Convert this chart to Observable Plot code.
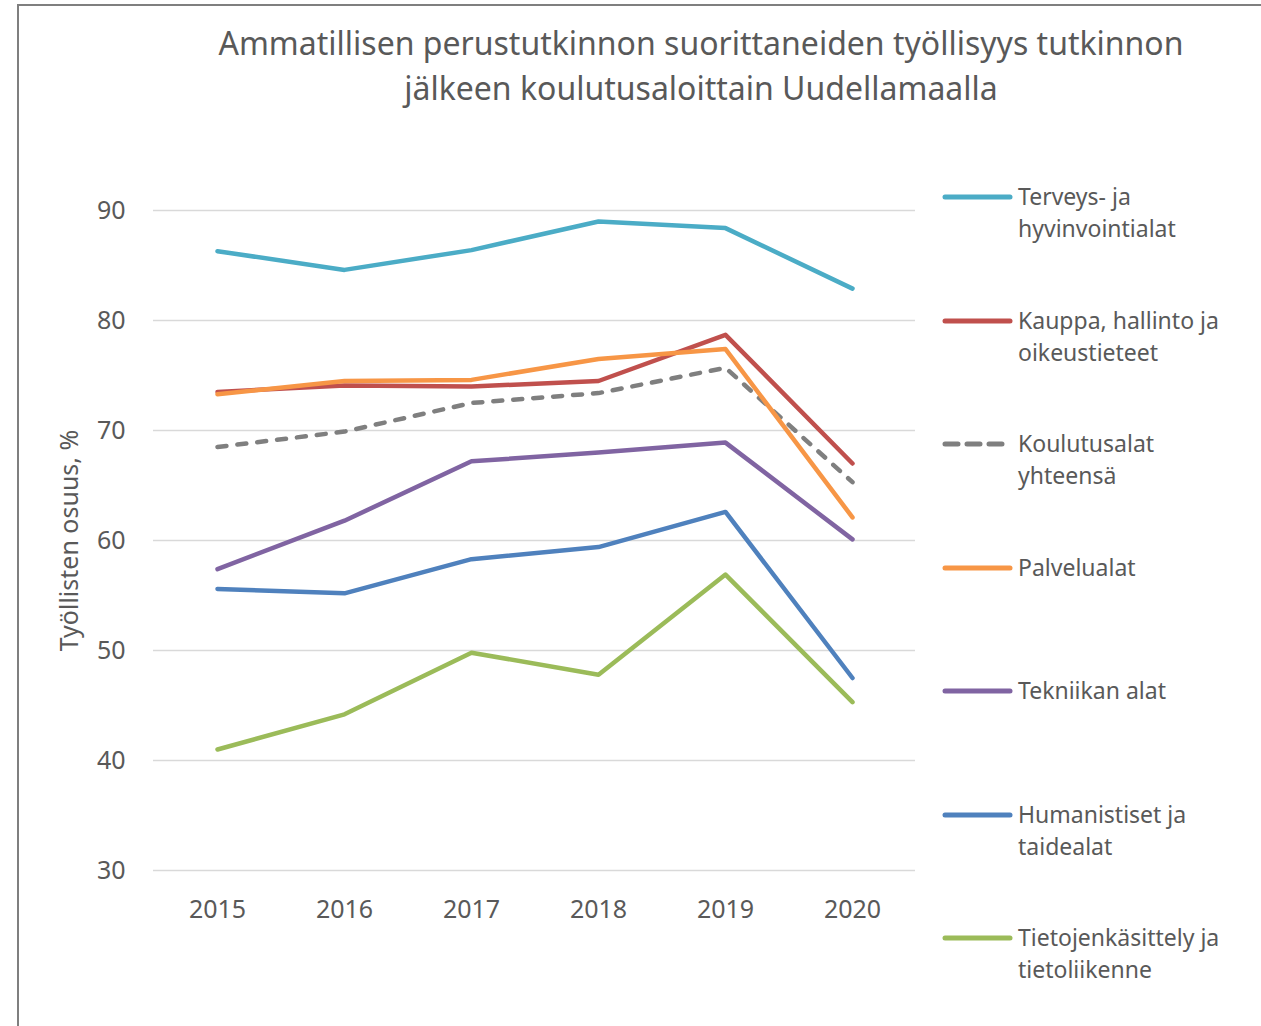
<!DOCTYPE html>
<html>
<head>
<meta charset="utf-8">
<script src="https://cdn.jsdelivr.net/npm/d3@7"></script>
<script src="https://cdn.jsdelivr.net/npm/@observablehq/plot@0.6"></script>
<style>
  body { margin: 0; background: #fff; }
  #wrap { position: relative; width: 1261px; height: 1026px; overflow: hidden; font-family: "Noto Sans", sans-serif; color: #595959; background: #fff; }
  #frame { position: absolute; left: 17px; top: 4px; width: 1400px; height: 1200px; border: 2px solid #7f7f7f; box-sizing: border-box; }
  #title { position: absolute; left: 0; top: 20px; width: 1402px; text-align: center; font-size: 32px; line-height: 45px; color: #595959; white-space: nowrap; }
  #chart { position: absolute; left: 0; top: 0; }
  .item { position: absolute; left: 942px; }
  .item svg { position: absolute; left: 0; top: 11px; }
  .item .lab { position: absolute; left: 76px; top: -1px; font-size: 23px; line-height: 32px; white-space: nowrap; color: #595959; }
</style>
</head>
<body>
<div id="wrap">
  <div id="frame"></div>
  <div id="title">Ammatillisen perustutkinnon suorittaneiden työllisyys tutkinnon<br>jälkeen koulutusaloittain Uudellamaalla</div>
  <div id="chart"></div>
  <div id="legend"></div>
</div>
<script>
const years = ["2015", "2016", "2017", "2018", "2019", "2020"];
const seriesNames = [
  "Terveys- ja hyvinvointialat",
  "Kauppa, hallinto ja oikeustieteet",
  "Koulutusalat yhteensä",
  "Palvelualat",
  "Tekniikan alat",
  "Humanistiset ja taidealat",
  "Tietojenkäsittely ja tietoliikenne"
];
const legendLines = [
  ["Terveys- ja", "hyvinvointialat"],
  ["Kauppa, hallinto ja", "oikeustieteet"],
  ["Koulutusalat", "yhteensä"],
  ["Palvelualat"],
  ["Tekniikan alat"],
  ["Humanistiset ja", "taidealat"],
  ["Tietojenkäsittely ja", "tietoliikenne"]
];
const colors = ["#4bacc6", "#c0504d", "#7f7f7f", "#f79646", "#8064a2", "#4f81bd", "#9bbb59"];
const dashed = [false, false, true, false, false, false, false];

const terveys = [86.3, 84.6, 86.4, 89.0, 88.4, 82.9];
const kauppa = [73.5, 74.1, 74.0, 74.5, 78.7, 67.0];
const yhteensa = [68.5, 69.9, 72.5, 73.4, 75.7, 65.3];
const palvelu = [73.3, 74.5, 74.6, 76.5, 77.4, 62.1];
const tekniikka = [57.4, 61.8, 67.2, 68.0, 68.9, 60.1];
const humanistiset = [55.6, 55.2, 58.3, 59.4, 62.6, 47.5];
const tieto = [41.0, 44.2, 49.8, 47.8, 56.9, 45.3];
const yTicks = [30, 40, 50, 60, 70, 80, 90];

const values = [terveys, kauppa, yhteensa, palvelu, tekniikka, humanistiset, tieto];
const rows = [];
seriesNames.forEach((s, i) => values[i].forEach((v, j) => rows.push({series: s, year: years[j], value: v})));

const lineMarks = seriesNames.map((s, i) =>
  Plot.line(rows.filter(d => d.series === s), {
    x: "year", y: "value", stroke: "series",
    strokeWidth: 4.5, strokeLinecap: "round", strokeLinejoin: "round",
    strokeDasharray: dashed[i] ? "9,11" : null
  })
);

const chart = Plot.plot({
  width: 1261, height: 1026,
  marginLeft: 153, marginRight: 346, marginTop: 210, marginBottom: 156,
  style: { fontFamily: "Noto Sans", fontSize: "25px", color: "#595959", background: "transparent" },
  x: { type: "point", domain: years, padding: 0.5 },
  y: { domain: [30, 90] },
  color: { domain: seriesNames, range: colors },
  marks: [
    Plot.gridY(yTicks, { stroke: "#d9d9d9", strokeOpacity: 1, strokeWidth: 1.5 }),
    Plot.axisY(yTicks, { tickSize: 0, tickPadding: 28, label: null, fill: "#595959" }),
    Plot.axisY([], { label: "Työllisten osuus, %", labelArrow: "none", labelAnchor: "center", labelOffset: 93, fontSize: 25, fill: "#595959" }),
    Plot.axisX(years, { tickSize: 0, tickPadding: 30, label: null, fill: "#595959" }),
    ...lineMarks
  ]
});
document.getElementById("chart").appendChild(chart);

const legend = document.getElementById("legend");
seriesNames.forEach((s, i) => {
  const div = document.createElement("div");
  div.className = "item";
  div.style.top = (181 + i * 123.5) + "px";
  const dash = dashed[i] ? ' stroke-dasharray="13,9"' : '';
  div.innerHTML = `<svg width="72" height="10"><line x1="3" y1="5" x2="68" y2="5" stroke="${colors[i]}" stroke-width="5" stroke-linecap="round"${dash}/></svg>` +
    `<div class="lab">${legendLines[i].join("<br>")}</div>`;
  legend.appendChild(div);
});
</script>
</body>
</html>
